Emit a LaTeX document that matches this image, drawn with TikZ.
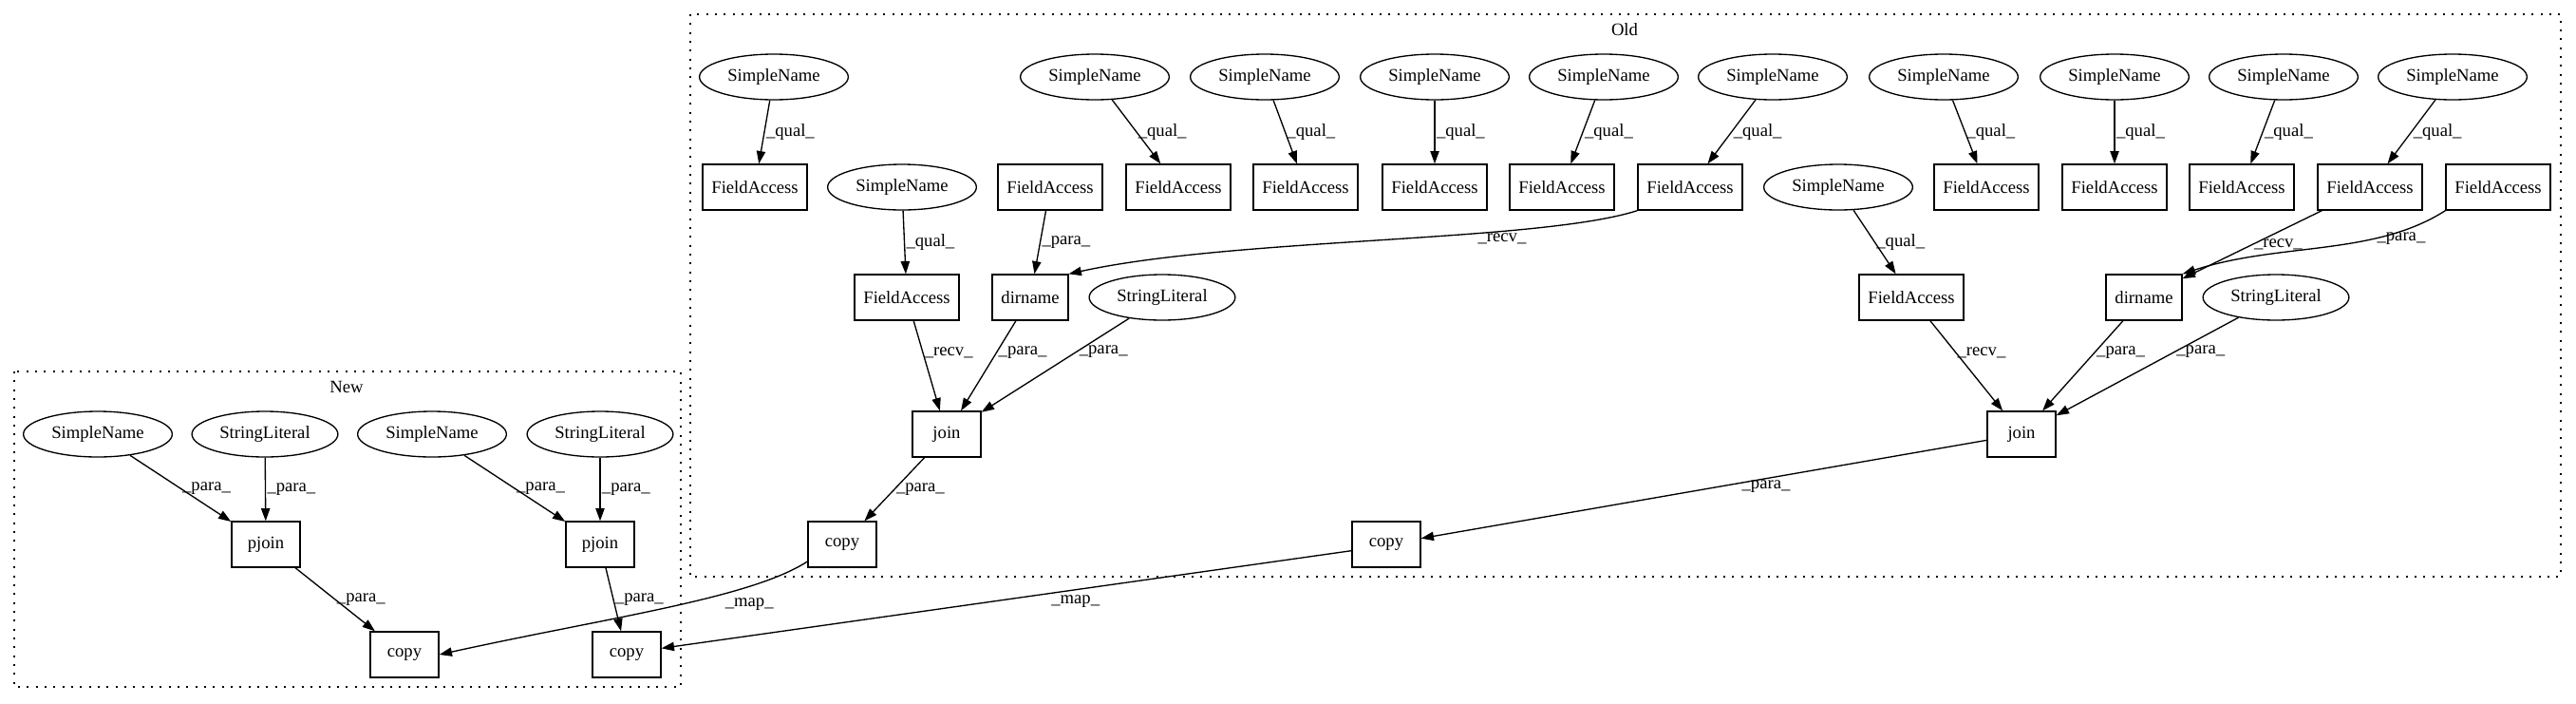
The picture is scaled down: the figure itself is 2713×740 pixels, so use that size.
\documentclass[tikz,border=0pt]{standalone}
\usepackage{fontspec}
\setmainfont{Liberation Serif}
\usetikzlibrary{arrows.meta, shapes.geometric}

\begin{document}
\begin{tikzpicture}[x=0.75pt, y=-0.75pt,
    every node/.style={font=\fontsize{14pt}{16pt}\selectfont},
    box/.style={draw, rectangle, line width=1pt, minimum width=54pt, minimum height=36pt, inner xsep=7pt},
    ell/.style={draw, ellipse, line width=1pt, minimum height=36pt, inner xsep=5pt, inner ysep=0pt},
    edge/.style={-{Triangle[length=10pt, width=7pt]}, line width=1pt},
    lbl/.style={anchor=west, inner sep=1pt, pos=0.5},
    cluster/.style={line width=1pt, dash pattern=on 1.5pt off 5.5pt}]

    \useasboundingbox (0,0) rectangle (2713,740);

    % Old
    \draw[cluster] (727,15) rectangle (2697,607);
    \node (oldlbl) at (1711,31) {Old};
    \foreach \n/\x in {sn1/815, sn2/1153, sn3/1332, sn4/1511, sn5/1689, sn6/1867, sn7/2047, sn8/2227, sn9/2405, sn10/2583}
        \node[ell] (\n) at (\x,81) {SimpleName};
    \foreach \n/\x in {fa1/795, fa2/1106, fa3/1241, fa4/1375, fa5/1511, fa6/1645, fa7/1780, fa8/2092, fa9/2227, fa10/2361, fa11/2496, fa12/2631}
        \node[box] (\n) at (\x,197) {FieldAccess};
    \node[ell] (sn11) at (950,197) {SimpleName};
    \node[ell] (sn12) at (1936,197) {SimpleName};
    \node[box] (fa13) at (955,313) {FieldAccess};
    \node[box] (dn1) at (1085,313) {dirname};
    \node[ell] (sl1) at (1224,313) {StringLiteral};
    \node[box] (fa14) at (2013,313) {FieldAccess};
    \node[box] (dn2) at (2258,313) {dirname};
    \node[ell] (sl2) at (2397,313) {StringLiteral};
    \node[box] (jn1) at (997,457) {join};
    \node[box] (jn2) at (2129,457) {join};
    \node[box] (cp1) at (887,573) {copy};
    \node[box] (cp2) at (1460,573) {copy};

    \foreach \s/\f in {sn1/fa1, sn2/fa3, sn3/fa4, sn4/fa5, sn5/fa6, sn6/fa7, sn7/fa8, sn8/fa9, sn9/fa10, sn10/fa11, sn11/fa13, sn12/fa14}
        \draw[edge] (\s) -- node[lbl] {\_qual\_} (\f);
    \draw[edge] (fa2) -- node[lbl] {\_para\_} (dn1);
    \draw[edge] (fa7.south west) .. controls (1620,255) and (1300,250) .. node[lbl, pos=0.3, below] {\_recv\_} (dn1.north east);
    \draw[edge] (fa11) -- node[lbl] {\_recv\_} (dn2);
    \draw[edge] (fa12.south west) .. controls (2500,270) and (2400,255) .. node[lbl, pos=0.3] {\_para\_} (dn2.north east);
    \foreach \s/\l in {fa13/recv, dn1/para, sl1/para}
        \draw[edge] (\s) -- node[lbl, pos=0.35] {\_\l\_} (jn1);
    \foreach \s/\l in {fa14/recv, dn2/para, sl2/para}
        \draw[edge] (\s) -- node[lbl, pos=0.35] {\_\l\_} (jn2);
    \draw[edge] (jn1) -- node[lbl] {\_para\_} (cp1);
    \draw[edge] (jn2) -- node[lbl, pos=0.39, below] {\_para\_} (cp2);

    % New
    \draw[cluster] (15,391) rectangle (717,723);
    \node (newlbl) at (365,407) {New};
    \node[ell] (sn13) at (103,457) {SimpleName};
    \node[ell] (sl3) at (279,457) {StringLiteral};
    \node[ell] (sn14) at (455,457) {SimpleName};
    \node[ell] (sl4) at (632,457) {StringLiteral};
    \node[box] (pj1) at (280,573) {pjoin};
    \node[box] (pj2) at (632,573) {pjoin};
    \node[box] (cp3) at (426,689) {copy};
    \node[box] (cp4) at (660,689) {copy};

    \foreach \s/\f in {sn13/pj1, sl3/pj1, sn14/pj2, sl4/pj2, pj1/cp3, pj2/cp4}
        \draw[edge] (\s) -- node[lbl] {\_para\_} (\f);

    % mapping
    \draw[edge] ([yshift=5pt]cp1.south west) .. controls (790,630) and (640,650) .. node[lbl, pos=0.25, below, yshift=-8pt] {\_map\_} (cp3.east);
    \draw[edge] ([yshift=-5pt]cp2.west) -- node[lbl, pos=0.4, below, yshift=-3pt] {\_map\_} ([yshift=5pt]cp4.east);
\end{tikzpicture}
\end{document}
